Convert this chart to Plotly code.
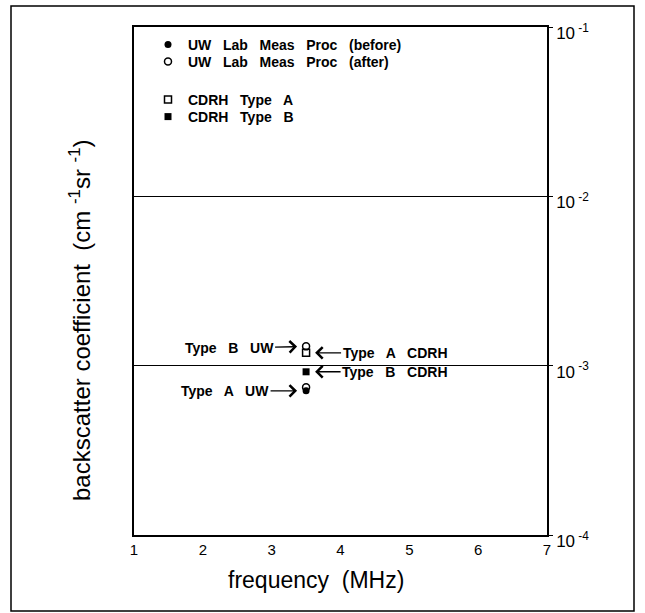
import math
import plotly.graph_objects as go

# ---- data ----
uw_before_freq = [3.5]
uw_before_vals = [7.1e-4]           # Type A UW (before)
uw_after_freq = [3.5, 3.5]
uw_after_vals = [1.30e-3, 7.45e-4]  # Type B UW, Type A UW (after)
cdrh_a_freq = [3.5]
cdrh_a_vals = [1.19e-3]
cdrh_b_freq = [3.5]
cdrh_b_vals = [9.2e-4]

x_ticks = [1, 2, 3, 4, 5, 6, 7]
y_tickvals = [1e-4, 1e-3, 1e-2, 1e-1]
y_ticktext = ["10<sup> -4</sup>", "10<sup> -3</sup>", "10<sup> -2</sup>", "10<sup> -1</sup>"]

FONT = "Liberation Sans, Arial, sans-serif"
MS = 7
L, R, T, B = 134, 98, 27, 78
PW, PH = 645 - L - R, 613 - T - B

def px_x(px):
    return (px - L) / PW

def px_y(py):
    return (613 - B - py) / PH

fig = go.Figure()
fig.add_trace(go.Scatter(x=uw_before_freq, y=uw_before_vals, mode="markers",
                         name="UW   Lab   Meas   Proc   (before)", legend="legend",
                         marker=dict(symbol="circle", size=MS, color="black")))
fig.add_trace(go.Scatter(x=uw_after_freq, y=uw_after_vals, mode="markers",
                         name="UW   Lab   Meas   Proc   (after)", legend="legend2",
                         marker=dict(symbol="circle-open", size=MS, color="black",
                                     line=dict(width=1.5))))
fig.add_trace(go.Scatter(x=cdrh_a_freq, y=cdrh_a_vals, mode="markers",
                         name="CDRH   Type   A", legend="legend3",
                         marker=dict(symbol="square-open", size=MS, color="black",
                                     line=dict(width=1.5))))
fig.add_trace(go.Scatter(x=cdrh_b_freq, y=cdrh_b_vals, mode="markers",
                         name="CDRH   Type   B", legend="legend4",
                         marker=dict(symbol="square", size=MS, color="black")))

leg_font = dict(family=FONT, size=14, color="black", weight="bold")
def leg(top_px):
    return dict(x=px_x(148), y=px_y(top_px), xanchor="left", yanchor="top",
                bgcolor="rgba(0,0,0,0)", font=leg_font, itemwidth=30)

ann_font = dict(family=FONT, size=14, color="black")
def arrow_ann(text, x, y, ax, ay, standoff):
    return dict(x=x, y=math.log10(y), xref="x", yref="y", text="<b>" + text + "</b>",
                showarrow=True, ax=ax, ay=ay, axref="pixel", ayref="pixel",
                arrowhead=4, arrowsize=1.6, arrowwidth=1.4, arrowcolor="black",
                standoff=standoff, font=ann_font)

annotations = [
    arrow_ann("Type   B   UW", uw_after_freq[0], uw_after_vals[0], -77, 2, 9),
    arrow_ann("Type   A   CDRH", cdrh_a_freq[0], cdrh_a_vals[0], 89, 0, 9),
    arrow_ann("Type   B   CDRH", cdrh_b_freq[0], cdrh_b_vals[0], 89, 0, 9),
    arrow_ann("Type   A   UW", uw_before_freq[0], uw_before_vals[0], -81, 0, 9),
    dict(text="backscatter coefficient  (cm <sup>-1</sup>sr <sup>-1</sup>)",
         xref="paper", yref="paper", x=px_x(80), y=px_y(320), textangle=-90,
         showarrow=False, xanchor="center", yanchor="middle",
         font=dict(family=FONT, size=24, color="black")),
    dict(text="frequency  (MHz)", xref="paper", yref="paper",
         x=px_x(316), y=px_y(580), showarrow=False, xanchor="center", yanchor="middle",
         font=dict(family=FONT, size=23, color="black")),
]

fig.update_layout(
    width=645, height=613,
    margin=dict(l=L, r=R, t=T, b=B),
    paper_bgcolor="white", plot_bgcolor="white",
    font=dict(family=FONT, color="black"),
    showlegend=True,
    legend=leg(29), legend2=leg(46), legend3=leg(84), legend4=leg(101),
    annotations=annotations,
    shapes=[dict(type="rect", xref="paper", yref="paper",
                 x0=px_x(11), x1=px_x(634), y0=px_y(611), y1=px_y(6),
                 line=dict(color="black", width=1.5))],
)

fig.update_xaxes(range=[1, 7], tickvals=x_ticks, ticks="", showgrid=False,
                 zeroline=False, showline=True, linecolor="black", linewidth=1.5,
                 mirror=True, tickfont=dict(family=FONT, size=15, color="black"))
fig.update_yaxes(type="log", range=[-4, -1], side="right", tickvals=y_tickvals,
                 ticktext=y_ticktext, ticks="outside", ticklen=4, tickcolor="black",
                 ticklabelshift=6,
                 showgrid=True, gridcolor="black", gridwidth=1.3, zeroline=False,
                 showline=True, linecolor="black", linewidth=1.5, mirror=True,
                 tickfont=dict(family=FONT, size=17, color="black"))

fig.write_html("out.html", config={"displayModeBar": False},
               post_script="document.body.style.margin='0px';")
